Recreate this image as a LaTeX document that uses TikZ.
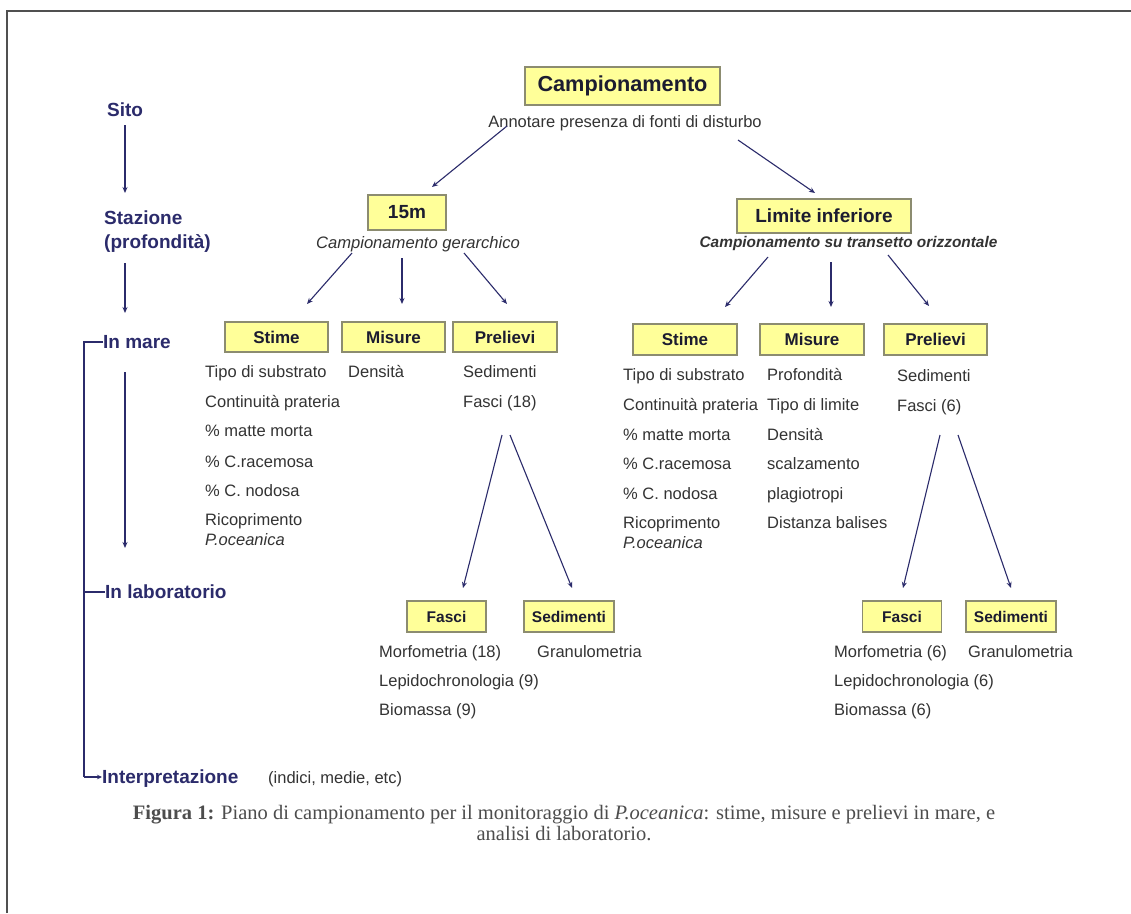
\documentclass[tikz,border=0pt]{standalone}
\usepackage{fontspec}
\setmainfont{Liberation Sans}
\newfontfamily\capserif{Liberation Serif}
\usetikzlibrary{arrows.meta}
\definecolor{navy}{HTML}{2B2B6B}
\definecolor{boxfill}{HTML}{FFFF99}
\definecolor{boxline}{HTML}{8C8C70}
\definecolor{txt}{HTML}{333333}
\definecolor{head}{HTML}{1C1C30}
\definecolor{capt}{HTML}{4D4D4D}
\definecolor{frame}{HTML}{505050}
\tikzset{
  ybox/.style={draw=boxline, line width=1.3pt, fill=boxfill, inner sep=0pt, text=head, font=\bfseries\fontsize{17}{20}\selectfont},
  labbox/.style={ybox, font=\bfseries\fontsize{15.5}{18}\selectfont},
  lst/.style={anchor=base west, inner sep=0pt, text=txt, font=\fontsize{16.5}{19}\selectfont},
  lbl/.style={anchor=base west, inner sep=0pt, text=navy, font=\bfseries\fontsize{19}{22}\selectfont},
  sub/.style={inner sep=0pt, text=txt, font=\itshape\fontsize{16.6}{19}\selectfont},
  arr/.style={draw=navy, line width=1.1pt, -{Stealth[length=6pt,width=5pt]}},
  brk/.style={draw=navy, line width=1.8pt},
  capline/.style={inner sep=0pt, anchor=base, text=capt, font=\capserif\fontsize{20.5}{22}\selectfont}
}
\begin{document}
\begin{tikzpicture}[x=1pt,y=-1pt]
\useasboundingbox (0,0) rectangle (1131,913);
\fill[white] (0,0) rectangle (1131,913);
% frame
\draw[frame, line width=1.5pt] (7,913) -- (7,11) -- (1131,11);

% ---- left column ----
\node[lbl] (sito) at (107,116.5) {Sito};
\node[lbl] (staz) at (104,224.5) {Stazione};
\node[lbl] (prof) at (104,248.5) {(profondità)};
\node[lbl] (mare) at (103,348.5) {In mare};
\node[lbl] (lab) at (105,598.5) {In laboratorio};
\node[lbl] (interp) at (102,783.5) {Interpretazione};
\node[lst] (indici) at (268,783) {(indici, medie, etc)};

\coordinate (sA) at (125,125);
\coordinate (sB) at (125,193);
\coordinate (pA) at (125,263);
\coordinate (pB) at (125,313);
\coordinate (mA) at (125,372);
\coordinate (mB) at (125,548);
\draw[arr] (sA) -- (sB);
\draw[arr] (pA) -- (pB);
\draw[arr] (mA) -- (mB);
\coordinate (bTop) at (84,342);
\coordinate (bLab) at (84,592);
\coordinate (bBot) at (84,777);
\draw[brk] (mare.west |- bTop) -- (bTop) -- (bBot);
\draw[brk] (bLab) -- (lab.west |- bLab);
\draw[brk, -{Stealth[length=5pt,width=4.5pt]}] (bBot) -- (interp.west |- bBot);

% ---- top ----
\node[ybox, minimum width=195pt, minimum height=38pt, font=\bfseries\fontsize{21.7}{24}\selectfont] (camp) at (622.5,86) {Campionamento};
\node[inner sep=0pt, text=txt, font=\fontsize{16.5}{19}\selectfont] (annot) at (625,123) {Annotare presenza di fonti di disturbo};

\node[ybox, minimum width=78pt, minimum height=35pt, font=\bfseries\fontsize{19}{22}\selectfont] (b15) at (407,212.5) {15m};
\node[sub] (cap15) at (418,244) {Campionamento gerarchico};
\node[ybox, minimum width=174pt, minimum height=34pt, font=\bfseries\fontsize{19}{22}\selectfont] (lim) at (824,216) {Limite inferiore};
\node[sub, font=\bfseries\itshape\fontsize{15.4}{18}\selectfont] (caplim) at (848.5,244) {Campionamento su transetto orizzontale};

\coordinate (c1s) at (507,126);
\coordinate (c1e) at (432,187);
\coordinate (c2s) at (738,140);
\coordinate (c2e) at (815,193);
\draw[arr] (c1s) -- (c1e);
\draw[arr] (c2s) -- (c2e);

% ---- row boxes ----
\node[ybox, minimum width=103pt, minimum height=30pt] (stimeL) at (276.5,337) {Stime};
\node[ybox, minimum width=103pt, minimum height=30pt] (misL) at (393.5,337) {Misure};
\node[ybox, minimum width=104pt, minimum height=30pt] (preL) at (505,337) {Prelievi};
\node[ybox, minimum width=104pt, minimum height=31pt] (stimeR) at (685,339.5) {Stime};
\node[ybox, minimum width=104pt, minimum height=31pt] (misR) at (812,339.5) {Misure};
\node[ybox, minimum width=103pt, minimum height=31pt] (preR) at (935.5,339.5) {Prelievi};

\coordinate (l1s) at (352,253);  \coordinate (l1e) at (307,304);
\coordinate (l2s) at (402,258);  \coordinate (l2e) at (402,304);
\coordinate (l3s) at (464,253);  \coordinate (l3e) at (507,304);
\draw[arr] (l1s) -- (l1e);
\draw[arr] (l2s) -- (l2e);
\draw[arr] (l3s) -- (l3e);
\coordinate (r1s) at (768,257);  \coordinate (r1e) at (725,307);
\coordinate (r2s) at (831,262);  \coordinate (r2e) at (831,307);
\coordinate (r3s) at (888,255);  \coordinate (r3e) at (929,306);
\draw[arr] (r1s) -- (r1e);
\draw[arr] (r2s) -- (r2e);
\draw[arr] (r3s) -- (r3e);

% ---- left lists ----
\node[lst] (sl1) at (205,377.5) {Tipo di substrato};
\node[lst] (sl2) at (205,407.5) {Continuità prateria};
\node[lst] (sl3) at (205,436.5) {\% matte morta};
\node[lst] (sl4) at (205,467.5) {\% C.racemosa};
\node[lst] (sl5) at (205,496.5) {\% C. nodosa};
\node[lst] (sl6) at (205,525.5) {Ricoprimento};
\node[lst] (sl7) at (205,545.5) {\textit{P.oceanica}};
\node[lst] (ml1) at (348,377.5) {Densità};
\node[lst] (pl1) at (463,377.5) {Sedimenti};
\node[lst] (pl2) at (463,407.5) {Fasci (18)};

% ---- right lists ----
\node[lst] (sr1) at (623,380.5) {Tipo di substrato};
\node[lst] (sr2) at (623,410.5) {Continuità prateria};
\node[lst] (sr3) at (623,440.5) {\% matte morta};
\node[lst] (sr4) at (623,469.5) {\% C.racemosa};
\node[lst] (sr5) at (623,499.5) {\% C. nodosa};
\node[lst] (sr6) at (623,528.5) {Ricoprimento};
\node[lst] (sr7) at (623,548.5) {\textit{P.oceanica}};
\node[lst] (mr1) at (767,380.5) {Profondità};
\node[lst] (mr2) at (767,410.5) {Tipo di limite};
\node[lst] (mr3) at (767,440.5) {Densità};
\node[lst] (mr4) at (767,469.5) {scalzamento};
\node[lst] (mr5) at (767,499.5) {plagiotropi};
\node[lst] (mr6) at (767,528.5) {Distanza balises};
\node[lst] (pr1) at (897,381.5) {Sedimenti};
\node[lst] (pr2) at (897,411.5) {Fasci (6)};

% ---- lab boxes ----
\node[labbox, minimum width=79pt, minimum height=31pt] (fasL) at (446.5,616.5) {Fasci};
\node[labbox, minimum width=90pt, minimum height=31pt] (sedL) at (569,616.5) {Sedimenti};
\node[labbox, minimum width=79pt, minimum height=31pt] (fasR) at (902,616.5) {Fasci};
\node[labbox, minimum width=90pt, minimum height=31pt] (sedR) at (1011,616.5) {Sedimenti};

\coordinate (fl1) at (502,435); \coordinate (fl2) at (510,435);
\coordinate (fr1) at (940,435); \coordinate (fr2) at (958,435);
\coordinate (fl1e) at (463,588); \coordinate (fl2e) at (572,588);
\coordinate (fr1e) at (903,588); \coordinate (fr2e) at (1011,588);
\draw[arr] (fl1) -- (fl1e);
\draw[arr] (fl2) -- (fl2e);
\draw[arr] (fr1) -- (fr1e);
\draw[arr] (fr2) -- (fr2e);

% ---- lab lists ----
\node[lst] (ll1) at (379,657.5) {Morfometria (18)};
\node[lst] (ll2) at (379,686.5) {Lepidochronologia (9)};
\node[lst] (ll3) at (379,715.5) {Biomassa (9)};
\node[lst] (lg1) at (537,657.5) {Granulometria};
\node[lst] (lr1) at (834,657.5) {Morfometria (6)};
\node[lst] (lr2) at (834,686.5) {Lepidochronologia (6)};
\node[lst] (lr3) at (834,715.5) {Biomassa (6)};
\node[lst] (lg2) at (968,657.5) {Granulometria};

% ---- caption ----
\node[capline] (cap1) at (564,819) {\textbf{Figura 1:} Piano di campionamento per il monitoraggio di \textit{P.oceanica}: stime, misure e prelievi in mare, e};
\node[capline] (cap2) at (564,840) {analisi di laboratorio.};
\end{tikzpicture}
\end{document}
